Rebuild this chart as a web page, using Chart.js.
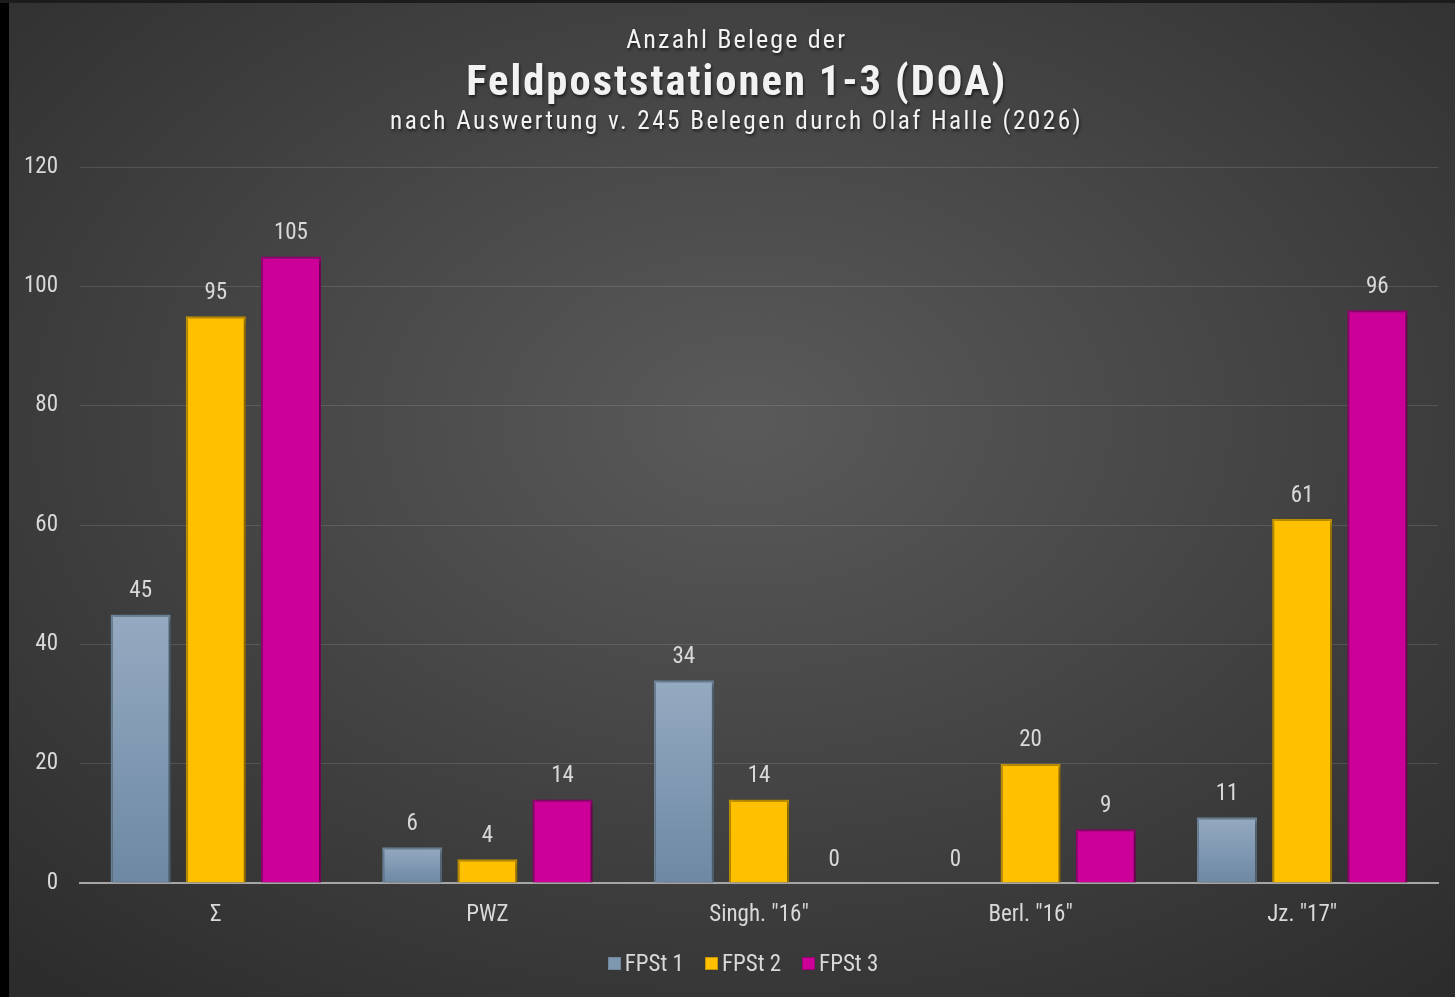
<!DOCTYPE html>
<html>
<head>
<meta charset="utf-8">
<script src="https://cdn.jsdelivr.net/npm/chart.js@4/dist/chart.umd.min.js"></script>
<style>
  html, body { margin:0; padding:0; background:#000; }
  body { width:1455px; height:997px; position:relative; overflow:hidden;
         font-family:"Liberation Sans Narrow","Roboto","Liberation Sans",sans-serif; font-stretch:condensed; }
  #frameTop { position:absolute; left:0; top:0; width:1455px; height:3px; background:#1c1c1c; }
  #bg { position:absolute; left:9px; top:3px; width:1446px; height:994px;
        background: radial-gradient(ellipse 75% 75% at 51% 42%, #5a5a5a 0%, #484848 40%, #2c2c2c 100%); }
  #wrap { position:absolute; left:0; top:0; width:1455px; height:997px; }
  .t { position:absolute; left:0; width:1474px; text-align:center; color:#f2f2f2; white-space:nowrap;
       text-shadow: 1px 2px 3px rgba(0,0,0,0.6); }
  .t span { display:inline-block; transform-origin:50% 50%; }
  #t1 { top:25px; font-size:25px; letter-spacing:2px; }
  #t2 { top:55px; font-size:43px; font-weight:bold; letter-spacing:2px; }
  #t3 { top:106px; font-size:25px; letter-spacing:2.4px; }
  #legend { position:absolute; top:950px; left:0; width:1486px; display:flex; justify-content:center; gap:21px;
            color:#d9d9d9; font-size:23px; }
  .li { display:flex; align-items:center; }
  .sw { width:11px; height:11px; margin-right:4px; border:1px solid; }
</style>
</head>
<body>
<div id="frameTop"></div>
<div id="bg"></div>
<div id="wrap"><canvas id="c" width="1455" height="997"></canvas></div>
<div class="t" id="t1"><span id="s1">Anzahl Belege der</span></div>
<div class="t" id="t2"><span id="s2">Feldpoststationen 1-3 (DOA)</span></div>
<div class="t" id="t3"><span id="s3">nach Auswertung v. 245 Belegen durch Olaf Halle (2026)</span></div>
<div id="legend"></div>
<script>
const categories = ['Σ', 'PWZ', 'Singh. "16"', 'Berl. "16"', 'Jz. "17"'];
const seriesNames = ['FPSt 1', 'FPSt 2', 'FPSt 3'];
const fpst1 = [45, 6, 34, 0, 11];
const fpst2 = [95, 4, 14, 20, 61];
const fpst3 = [105, 14, 0, 9, 96];
const yTicks = [0, 20, 40, 60, 80, 100, 120];

const FONT = '"Liberation Sans Narrow","Roboto","Liberation Sans",sans-serif';
const TXT = '#d9d9d9';

// fit title lines to reference widths
[['s1', 221], ['s2', 541], ['s3', 693]].forEach(([id, w]) => {
  const el = document.getElementById(id);
  const cw = el.getBoundingClientRect().width;
  if (cw > 0) el.style.transform = 'scaleX(' + (w / cw) + ')';
});

function blueGrad(ctx) {
  const chart = ctx.chart;
  if (!chart.chartArea || ctx.type !== 'data') return '#7f98b2';
  const y = chart.scales.y;
  const v = ctx.raw;
  const top = y.getPixelForValue(v), bot = y.getPixelForValue(0);
  if (!(bot > top)) return '#7f98b2';
  const g = chart.ctx.createLinearGradient(0, top, 0, bot);
  g.addColorStop(0, '#94aac1');
  g.addColorStop(1, '#6e88a3');
  return g;
}

const labelPlugin = {
  id: 'valLabels',
  afterDatasetsDraw(chart) {
    const ctx = chart.ctx;
    ctx.save();
    ctx.font = 'condensed 23px ' + FONT;
    ctx.fillStyle = TXT;
    ctx.textAlign = 'center';
    ctx.textBaseline = 'middle';
    chart.data.datasets.forEach((ds, i) => {
      chart.getDatasetMeta(i).data.forEach((bar, j) => {
        ctx.fillText(String(ds.data[j]), bar.x, bar.y - 23);
      });
    });
    ctx.restore();
  }
};
const shadowPlugin = {
  id: 'barShadow',
  beforeDatasetsDraw(chart) {
    const ctx = chart.ctx;
    ctx.save();
    ctx.shadowColor = 'rgba(0,0,0,0.45)';
    ctx.shadowBlur = 6;
    ctx.shadowOffsetX = 2;
    ctx.shadowOffsetY = 2;
  },
  afterDatasetsDraw(chart) { chart.ctx.restore(); }
};

const colors = [
  { bg: blueGrad, border: '#6f879d', sw: '#7f98b2' },
  { bg: '#ffc000', border: '#c79500', sw: '#ffc000' },
  { bg: '#cc0099', border: '#9c0076', sw: '#cc0099' }
];
const seriesData = [fpst1, fpst2, fpst3];

new Chart(document.getElementById('c'), {
  type: 'bar',
  data: {
    labels: categories,
    datasets: seriesNames.map((n, i) => ({
      label: n,
      data: seriesData[i],
      backgroundColor: colors[i].bg,
      borderColor: colors[i].border,
      borderWidth: 2,
      borderSkipped: 'bottom',
      categoryPercentage: 0.83,
      barPercentage: 0.8
    }))
  },
  options: {
    responsive: false,
    animation: false,
    layout: { padding: { top: 167, left: 0, right: 17, bottom: 54 } },
    plugins: { legend: { display: false }, tooltip: { enabled: false }, title: { display: false } },
    scales: {
      x: {
        grid: { display: false, drawTicks: false },
        border: { display: true, color: '#a6a6a6', width: 2 },
        ticks: { color: TXT, font: { family: FONT, size: 23, weight: 'condensed' }, padding: 18, maxRotation: 0 },
        afterFit(s) { s.height = 60; }
      },
      y: {
        min: 0, max: 120,
        afterBuildTicks(s) { s.ticks = yTicks.map(v => ({ value: v })); },
        grid: { color: 'rgba(255,255,255,0.12)', lineWidth: 1, drawTicks: false },
        border: { display: false },
        ticks: { color: TXT, font: { family: FONT, size: 23, weight: 'condensed' }, padding: 22 },
        afterFit(s) { s.width = 80; }
      }
    }
  },
  plugins: [shadowPlugin, labelPlugin]
});

const lg = document.getElementById('legend');
seriesNames.forEach((n, i) => {
  const d = document.createElement('div'); d.className = 'li';
  const s = document.createElement('div'); s.className = 'sw';
  s.style.background = colors[i].sw; s.style.borderColor = colors[i].border;
  const t = document.createElement('span'); t.textContent = n;
  d.appendChild(s); d.appendChild(t); lg.appendChild(d);
});
</script>
</body>
</html>
